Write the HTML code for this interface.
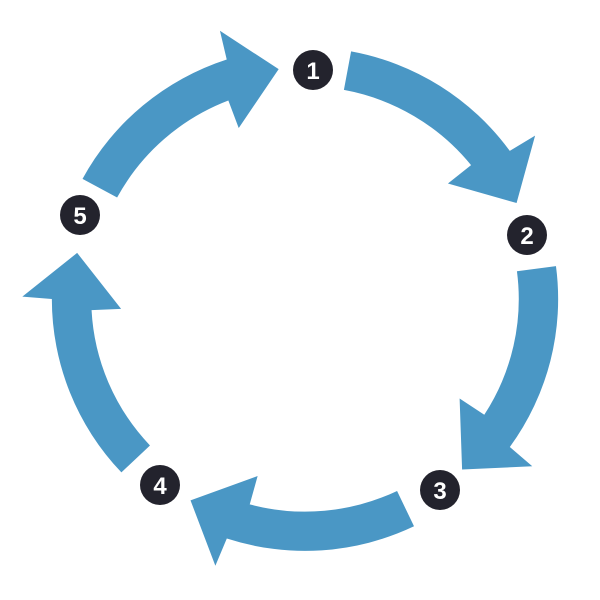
<!DOCTYPE html>
<html><head><style>html,body{margin:0;padding:0;background:#fff;width:600px;height:600px;overflow:hidden;}svg{display:block;}</style></head>
<body>
<svg width="600" height="600" viewBox="0 0 600 600" xmlns="http://www.w3.org/2000/svg">
<defs>
<path id="arr" fill="#4a97c5" d="M 46.8,-252.7 A257 257 0 0 1 207.9,-151.1 L233.6,-166.7 L214.8,-97.9 L145.1,-117.9 L168.6,-136.6 A217 217 0 0 0 39.5,-213.4 Z"/>
</defs>
<g transform="translate(305,299) scale(0.985,0.98)">
<use href="#arr"/>
<use href="#arr" transform="rotate(72)"/>
<use href="#arr" transform="rotate(144)"/>
<use href="#arr" transform="rotate(216)"/>
<use href="#arr" transform="rotate(288)"/>
</g>
<g font-family="Liberation Sans, sans-serif" font-weight="bold" font-size="24" fill="#fff" text-anchor="middle">
<circle cx="313" cy="70" r="20" fill="#23232d"/><text x="313" y="79">1</text>
<circle cx="527" cy="235" r="20" fill="#23232d"/><text x="527" y="244">2</text>
<circle cx="440" cy="490" r="20" fill="#23232d"/><text x="440" y="499">3</text>
<circle cx="160" cy="485" r="20" fill="#23232d"/><text x="160" y="494">4</text>
<circle cx="80" cy="215" r="20" fill="#23232d"/><text x="80" y="224">5</text>
</g>
</svg>
</body></html>
